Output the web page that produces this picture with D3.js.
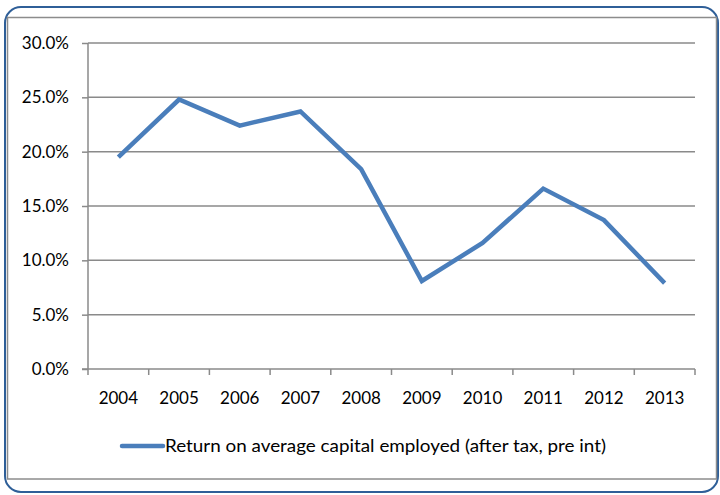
<!DOCTYPE html>
<html>
<head>
<meta charset="utf-8">
<script src="https://cdn.jsdelivr.net/npm/d3@7"></script>
<style>
  html, body { margin: 0; padding: 0; background: #fff; }
  svg { display: block; }
  text { font-family: Lato, "Open Sans", "Liberation Sans", sans-serif; fill: #000; }
</style>
</head>
<body>
<svg id="chart" width="720" height="495"></svg>
<script>
// Return on average capital employed, yearly
const years = ["2004", "2005", "2006", "2007", "2008", "2009", "2010", "2011", "2012", "2013"];
const roace = [0.195, 0.248, 0.224, 0.237, 0.184, 0.081, 0.116, 0.166, 0.137, 0.079];
const yTicks = [0, 0.05, 0.10, 0.15, 0.20, 0.25, 0.30];
const seriesName = "Return on average capital employed (after tax, pre int)";

const svg = d3.select("#chart");
const lineColor = "#4A7EBB";
const gridColor = "#8A8A8A";

// outer rounded frame and inner chart border
svg.append("rect")
  .attr("x", 5).attr("y", 7).attr("width", 713).attr("height", 485)
  .attr("rx", 16).attr("ry", 16)
  .attr("fill", "#fff").attr("stroke", "#2F5F98").attr("stroke-width", 2);
svg.append("rect")
  .attr("x", 7.5).attr("y", 17.5).attr("width", 709).attr("height", 461.5)
  .attr("fill", "#fff").attr("stroke", "#8C8C8C").attr("stroke-width", 1.5);

const plot = { left: 88, right: 695, top: 43, bottom: 369 };

const x = d3.scaleBand().domain(years).range([plot.left, plot.right]).padding(0);
const y = d3.scaleLinear().domain([0, 0.30]).range([plot.bottom, plot.top]);

// horizontal gridlines
svg.append("g")
  .selectAll("line")
  .data(yTicks.filter(d => d > 0))
  .join("line")
  .attr("x1", plot.left).attr("x2", plot.right)
  .attr("y1", d => y(d)).attr("y2", d => y(d))
  .attr("stroke", gridColor).attr("stroke-width", 1.5);

// y axis
const yAxis = svg.append("g")
  .attr("transform", `translate(${plot.left},0)`)
  .call(d3.axisLeft(y).tickValues(yTicks).tickFormat(d3.format(".1%")).tickSize(6).tickPadding(13));
yAxis.select(".domain").attr("stroke", gridColor).attr("stroke-width", 1.5)
  .attr("d", `M0,${plot.top}V${plot.bottom}`);
yAxis.selectAll(".tick line").attr("stroke", gridColor).attr("stroke-width", 1.5);
yAxis.selectAll(".tick text").attr("font-size", 17).attr("fill", "#000")
  .style("font-family", "Lato, 'Open Sans', sans-serif");

// x axis with ticks on category boundaries
const xAxis = svg.append("g")
  .attr("transform", `translate(0,${plot.bottom})`)
  .call(d3.axisBottom(x).tickSize(0).tickPadding(23));
xAxis.select(".domain").attr("stroke", gridColor).attr("stroke-width", 1.5)
  .attr("d", `M${plot.left - 6},0H${plot.right}`);
xAxis.selectAll(".tick text").attr("font-size", 17).attr("fill", "#000")
  .style("font-family", "Lato, 'Open Sans', sans-serif");
xAxis.append("g")
  .selectAll("line")
  .data(years.concat(["end"]))
  .join("line")
  .attr("x1", (d, i) => plot.left + i * x.bandwidth())
  .attr("x2", (d, i) => plot.left + i * x.bandwidth())
  .attr("y1", 0).attr("y2", 6)
  .attr("stroke", gridColor).attr("stroke-width", 1.5);

// series line
const line = d3.line()
  .x((d, i) => x(years[i]) + x.bandwidth() / 2)
  .y(d => y(d));
svg.append("path")
  .datum(roace)
  .attr("d", line)
  .attr("fill", "none")
  .attr("stroke", lineColor)
  .attr("stroke-width", 4.5)
  .attr("stroke-linejoin", "miter")
  .attr("stroke-linecap", "butt");

// legend
const lg = svg.append("g").attr("transform", "translate(122,446)");
lg.append("line")
  .attr("x1", 0).attr("x2", 41).attr("y1", 0).attr("y2", 0)
  .attr("stroke", lineColor).attr("stroke-width", 4.5).attr("stroke-linecap", "round");
lg.append("text")
  .attr("x", 43).attr("y", 6)
  .attr("font-size", 17)
  .attr("textLength", 441).attr("lengthAdjust", "spacingAndGlyphs")
  .text(seriesName);
</script>
</body>
</html>
